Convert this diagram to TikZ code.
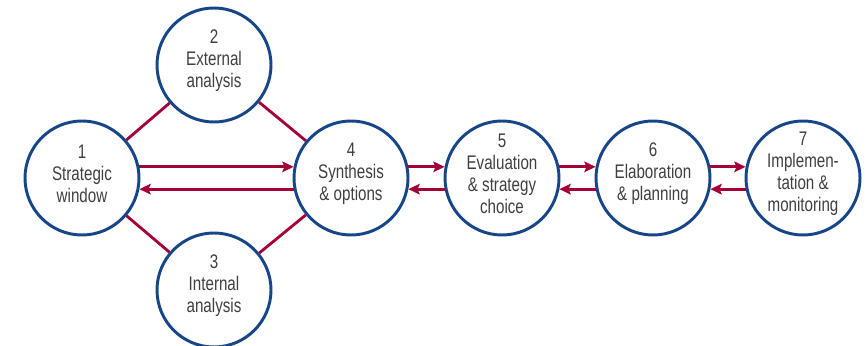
\documentclass[tikz,border=0pt]{standalone}
\usepackage{fontspec}
\setmainfont[FakeStretch=0.77]{Liberation Sans}
\usepackage{tikz}
\usetikzlibrary{arrows.meta}
\definecolor{ringblue}{RGB}{22,70,135}
\definecolor{flowred}{RGB}{163,0,58}
\definecolor{textgrey}{RGB}{64,64,64}
\tikzset{
  stage/.style={circle,draw=ringblue,line width=2.1pt,minimum size=2.85cm,inner sep=0pt},
  stagetext/.style={align=center,text=textgrey,yshift=0.1cm,
    font=\fontsize{14pt}{15.6pt}\selectfont},
  link/.style={draw=flowred,line width=2pt},
  flow/.style={link,-{Stealth[length=8pt,width=7.5pt,inset=1.5pt]}}
}

\begin{document}
\begin{tikzpicture}
    \useasboundingbox (0,0) rectangle (21.65,8.625);
    \node[stage,label={[stagetext]center:{1\\Strategic\\window}}] (c1) at (2.05,4.175) {};
    \node[stage,label={[stagetext]center:{2\\External\\analysis}}] (c2) at (5.35,7.0) {};
    \node[stage,label={[stagetext]center:{3\\Internal\\analysis}}] (c3) at (5.35,1.375) {};
    \node[stage,label={[stagetext]center:{4\\Synthesis\\\& options}}] (c4) at (8.775,4.175) {};
    \node[stage,label={[stagetext]center:{5\\Evaluation\\\& strategy\\choice}}] (c5) at (12.55,4.175) {};
    \node[stage,label={[stagetext]center:{6\\Elaboration\\\& planning}}] (c6) at (16.325,4.175) {};
    \node[stage,label={[stagetext]center:{7\\Implemen-\\tation \&\\monitoring}}] (c7) at (20.075,4.175) {};
    \draw[link] (c1) -- (c2);
    \draw[link] (c2) -- (c4);
    \draw[link] (c1) -- (c3);
    \draw[link] (c3) -- (c4);
    \draw[flow] (c1.11) -- (c4.169);
    \draw[flow] (c4.191) -- (c1.349);
    \draw[flow] (c4.11) -- (c5.169);
    \draw[flow] (c5.191) -- (c4.349);
    \draw[flow] (c5.11) -- (c6.169);
    \draw[flow] (c6.191) -- (c5.349);
    \draw[flow] (c6.11) -- (c7.169);
    \draw[flow] (c7.191) -- (c6.349);
  \end{tikzpicture}
\end{document}
